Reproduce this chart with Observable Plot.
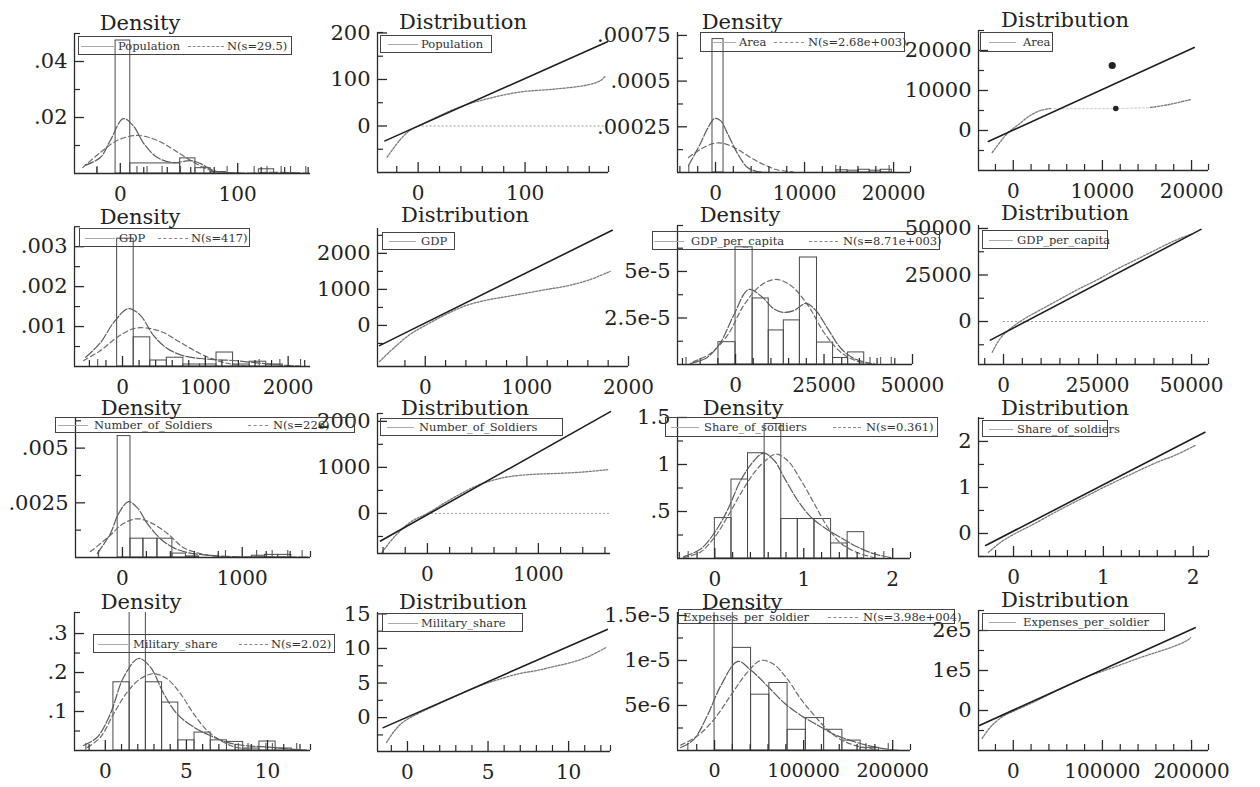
<!DOCTYPE html>
<html><head><meta charset="utf-8">
<script src="https://cdn.jsdelivr.net/npm/d3@7"></script>
<script src="https://cdn.jsdelivr.net/npm/@observablehq/plot@0.6"></script>
<style>
body{margin:0;background:#fff;}
#root{position:relative;width:1260px;height:787px;overflow:hidden;background:#fff;font-family:"DejaVu Serif",serif;color:#222;}
.ttl{position:absolute;font-size:21px;line-height:14px;white-space:nowrap;transform:translateX(-50%);color:#222;}
.legend{position:absolute;border:1px solid #444;box-sizing:border-box;}
.ltext{position:absolute;font-size:11.5px;line-height:12px;white-space:nowrap;color:#333;transform:translateY(-50%);}
.sample{position:absolute;height:0;}
</style>
</head><body><div id="root"></div>
<script>
// ---------- DATA ----------
// Population
const pop_bins = [[-4,8.5,0.0475],[8.5,51,0.0036],[51,64,0.0054],[64,77,0.0019],[77,90,0.0005],[118,131,0.0015]];
const pop_kde = [[-30,0.0029],[-17,0.0057],[-8.5,0.0118],[2.6,0.0196],[11,0.0171],[20,0.0107],[31.6,0.0057],[45,0.0039],[60,0.0046],[68,0.0036],[80,0.001],[100,0.0002],[130,0.0004],[160,0.0001]];
const pop_norm = [[-32,0.0021],[-17,0.0075],[-2.6,0.0118],[14.5,0.0136],[31.6,0.0118],[45,0.0086],[57,0.0054],[71,0.0021],[81,0.0007],[100,0.0001]];
const pop_rug = [-19.7,14.2,22.8,35.6,51.3,71.2,91,114,125,137,145,158];
const popQ_line = [[-31,-32],[177,181]];
const popQ_curve = [[-29,-67],[-17,-30],[-7.5,-9],[2,2],[20,22],[39,41],[64,58],[95,73],[126,79],[158,88],[170,97],[175,107]];
const popQ_zero = [0,177];
// Area
const area_bins = [[-340,900,0.00073],[13600,14840,0.000012],[14840,16080,0.00001],[16080,17320,0.000015],[17320,18560,0.00001],[18560,19800,0.000015]];
const area_kde = [[-3030,0.000038],[-1690,0.000159],[-900,0.00024],[-100,0.000295],[560,0.000284],[1350,0.000213],[2470,0.000104],[3600,0.000027],[4700,0.000005],[6000,0]];
const area_norm = [[-3030,0.000082],[-1690,0.000127],[-200,0.000159],[900,0.000159],[2470,0.000127],[3930,0.000082],[5390,0.000044],[6900,0.000015],[8700,0.000003]];
const area_rug = [-3000,13500,19500];
const areaQ_line = [[-2800,-2750],[20300,20750]];
const areaQ_curve = [[-2360,-5500],[-670,-750],[450,1250],[1900,3750],[3030,5000],[4160,5500]];
const areaQ_faint = [[4160,5500],[8000,5450],[12000,5500],[15400,5750]];
const areaQ_tail = [[15400,5750],[17500,6500],[19900,7750]];
const areaQ_dots = [[11500,5500],[11100,16250]];
// GDP
const gdp_bins = [[-65,135,0.0032],[135,335,0.00073],[335,535,0.00015],[535,735,0.00022],[735,935,0.00005],[935,1135,0.00005],[1135,1335,0.00035],[1335,1535,0.00005],[1535,1735,0.00012],[1735,1935,0.00005]];
const gdp_kde = [[-445,0.00023],[-265,0.0006],[-108,0.0011],[72,0.00145],[216,0.00128],[373,0.00078],[540,0.00045],[735,0.00027],[940,0.0002],[1140,0.00017],[1340,0.00015],[1580,0.0001],[1820,0.00005],[2140,0.00001]];
const gdp_norm = [[-470,0.00015],[-265,0.0004],[-65,0.00073],[135,0.00095],[300,0.00096],[495,0.00085],[700,0.0006],[940,0.00032],[1140,0.00015],[1340,0.00005],[1580,0]];
const gdp_rug = [-300,1650,1900,2150];
const gdpQ_line = [[-450,-560],[1840,2640]];
const gdpQ_curve = [[-450,-1000],[-300,-600],[-150,-250],[0,0],[200,300],[400,550],[600,700],[800,800],[1000,900],[1200,1000],[1400,1100],[1600,1250],[1820,1500]];
// GDP per capita
const gdppc_bins = [[-4830,0,1.2e-5],[0,4830,6.3e-5],[4830,9380,3.55e-5],[9380,13640,1.83e-5],[13640,18180,2.37e-5],[18180,23010,5.75e-5],[23010,27560,1.18e-5],[27560,31820,0.35e-5],[31820,36360,0.65e-5]];
const gdppc_kde = [[-12800,0.05e-5],[-8000,0.38e-5],[-4260,1.18e-5],[-570,2.63e-5],[3700,4.03e-5],[7100,3.7e-5],[10800,3.0e-5],[13600,2.8e-5],[16500,2.9e-5],[19900,3.28e-5],[22700,2.9e-5],[26000,1.94e-5],[29800,0.86e-5],[33500,0.32e-5],[38400,0.05e-5]];
const gdppc_norm = [[-11900,0.16e-5],[-7100,0.59e-5],[-2300,1.56e-5],[2300,3.17e-5],[7100,4.25e-5],[11400,4.57e-5],[15600,4.25e-5],[20500,3.17e-5],[25000,1.72e-5],[29800,0.65e-5],[34600,0.16e-5],[39400,0.03e-5]];
const gdppc_rug = [-14000,38000,41000,44000];
const gdppcQ_line = [[-3500,-10000],[52500,49500]];
const gdppcQ_curve = [[-3000,-16500],[-1500,-11000],[0,-7000],[3000,-2000],[6000,2000],[10000,6500],[15000,12000],[20000,17500],[25000,22500],[30000,28000],[35000,33000],[40000,38000],[45000,43000],[50000,47000]];
const gdppcQ_zero = [0,54500];
// Number of soldiers
const sold_bins = [[-40,67,0.00555],[67,175,0.00086],[175,292,0.00086],[292,417,0.00086],[417,530,0.00018],[530,640,0.00005],[1080,1190,0.00008],[1190,1300,0.00012],[1300,1410,0.00012]];
const sold_kde = [[-210,0.00018],[-100,0.0011],[-33,0.002],[50,0.00255],[125,0.00227],[208,0.00155],[317,0.00086],[425,0.00045],[540,0.00023],[650,0.00014],[870,0.00005],[1200,0.00003],[1550,0.00002]];
const sold_norm = [[-267,0.00027],[-125,0.0009],[8,0.00155],[125,0.00177],[233,0.0016],[375,0.0011],[510,0.00045],[650,0.00018],[790,0.00005],[950,0]];
const sold_rug = [-200,860,1120,1250,1380,1500];
const soldQ_line = [[-423,-600],[1650,2210]];
const soldQ_curve = [[-425,-900],[-295,-500],[-148,-180],[0,0],[148,220],[295,420],[443,600],[590,720],[738,800],[960,850],[1181,870],[1403,900],[1624,950]];
const soldQ_zero = [0,1650];
// Share of soldiers
const share_bins = [[0,0.187,0.43],[0.187,0.373,0.84],[0.373,0.56,1.12],[0.56,0.747,1.43],[0.747,0.933,0.42],[0.933,1.12,0.42],[1.12,1.307,0.42],[1.307,1.493,0.16],[1.493,1.68,0.28]];
const share_kde = [[-0.35,0.02],[-0.16,0.1],[0,0.28],[0.14,0.51],[0.29,0.83],[0.44,1.04],[0.55,1.12],[0.67,1.04],[0.78,0.86],[0.93,0.62],[1.08,0.44],[1.23,0.33],[1.42,0.22],[1.61,0.12],[1.79,0.05],[1.98,0.01]];
const share_norm = [[-0.35,0.01],[-0.16,0.07],[0,0.23],[0.14,0.44],[0.29,0.69],[0.44,0.91],[0.59,1.06],[0.69,1.11],[0.82,1.04],[0.97,0.83],[1.12,0.58],[1.27,0.33],[1.42,0.16],[1.61,0.06],[1.79,0.01]];
const share_rug = [-0.3,1.9];
const shareQ_line = [[-0.31,-0.26],[2.13,2.2]];
const shareQ_curve = [[-0.28,-0.41],[-0.15,-0.2],[0,-0.02],[0.2,0.18],[0.5,0.5],[0.8,0.8],[1.0,1.0],[1.3,1.28],[1.6,1.55],[1.8,1.7],[2.02,1.91]];
// Military share
const mil_bins = [[0.5,1.5,0.175],[1.5,2.5,0.36],[2.5,3.5,0.175],[3.5,4.5,0.123],[4.5,5.5,0.026],[5.5,6.5,0.046],[6.5,7.5,0.026],[7.5,8.5,0.022],[8.5,9.5,0.005],[9.5,10.5,0.023],[10.5,11.5,0.005]];
const mil_kde = [[-1.35,0.013],[-0.5,0.034],[0.31,0.094],[1.13,0.188],[2.05,0.236],[2.78,0.214],[3.6,0.146],[4.42,0.094],[5.45,0.06],[6.48,0.038],[7.5,0.021],[8.5,0.013],[9.55,0.01],[10.6,0.007],[11.6,0.003],[12.4,0.001]];
const mil_norm = [[-1.1,0.008],[-0.3,0.034],[0.51,0.094],[1.34,0.149],[2.16,0.184],[2.98,0.197],[3.8,0.184],[4.63,0.146],[5.45,0.094],[6.28,0.051],[7.1,0.026],[7.9,0.01],[8.9,0.003]];
const mil_rug = [-1.2,8.2,8.8,9.9,10.3,11.8];
const milQ_line = [[-1.5,-1.45],[12.4,12.75]];
const milQ_curve = [[-1.3,-3.6],[-0.8,-1.9],[-0.3,-0.7],[0.5,0.4],[1.5,1.5],[3,3.1],[4.5,4.6],[5.5,5.4],[7,6.4],[8,6.8],[9.1,7.4],[10.2,8.0],[11.2,8.8],[12.3,10.1]];
// Expenses per soldier
const exp_bins = [[0,20500,1.6e-5],[20500,41000,1.14e-5],[41000,61500,6.2e-6],[61500,82000,7.5e-6],[82000,102500,2.3e-6],[102500,123000,3.6e-6],[123000,143500,2.3e-6],[143500,164000,1.1e-6],[164000,184500,0.3e-6]];
const exp_kde = [[-38000,0.33e-6],[-23500,1.2e-6],[-8000,3.9e-6],[7000,7.2e-6],[26000,9.9e-6],[40000,9.0e-6],[59000,7.2e-6],[78000,5.3e-6],[97000,3.9e-6],[116000,2.8e-6],[134000,1.8e-6],[153000,1.1e-6],[172000,0.55e-6],[190000,0.2e-6],[208000,0]];
const exp_norm = [[-38000,0.6e-6],[-19500,1.6e-6],[-1000,3.4e-6],[18000,6.1e-6],[37000,8.7e-6],[52000,1.0e-5],[66000,9.6e-6],[82000,7.9e-6],[97000,5.7e-6],[112000,3.9e-6],[127000,2.3e-6],[142000,1.2e-6],[160000,0.5e-6],[179000,0.15e-6]];
const exp_rug = [-30000,170000,195000];
const expQ_line = [[-38000,-37500],[204000,207000]];
const expQ_curve = [[-35000,-70000],[-25000,-40000],[-12000,-15000],[0,-2000],[20000,18000],[40000,40000],[60000,62000],[86500,87500],[100000,98000],[120000,114000],[142700,132500],[160000,145000],[180000,160000],[195000,175000],[199000,182000]];

// tick values and labels
const pop_xt=[0,100], pop_xm=[-20,20,40,60,80,120,140,160], pop_yt=[0.02,0.04], pop_yl=[".02",".04"], pop_ym=[0.01,0.03,0.05];
const popQ_xt=[0,100], popQ_xm=[-20,20,40,60,80,120,140,160,178], popQ_yt=[0,100,200], popQ_ym=[-50,50,150,201];
const area_xt=[0,10000,20000], area_xm=[-4000,-2000,2000,4000,6000,8000,12000,14000,16000,18000,21900], area_yt=[0.00025,0.0005,0.00075], area_yl=[".00025",".0005",".00075"], area_ym=[0.000125,0.000375,0.000625];
const areaQ_xt=[0,10000,20000], areaQ_xm=[-2000,2000,4000,6000,8000,12000,14000,16000,18000,21900], areaQ_yt=[0,10000,20000], areaQ_ym=[-5000,5000,15000,25000];
const gdp_xt=[0,1000,2000], gdp_xm=[-400,-200,200,400,600,800,1200,1400,1600,1800,2200], gdp_yt=[0.001,0.002,0.003], gdp_yl=[".001",".002",".003"], gdp_ym=[0.0005,0.0015,0.0025,0.0035];
const gdpQ_xt=[0,1000,2000], gdpQ_xm=[-200,200,400,600,800,1200,1400,1600,1800], gdpQ_yt=[0,1000,2000], gdpQ_ym=[-500,500,1500,2500];
const gdppc_xt=[0,25000,50000], gdppc_xm=[-15000,-10000,-5000,5000,10000,15000,20000,30000,35000,40000,45000], gdppc_yt=[2.5e-5,5e-5], gdppc_yl=["2.5e-5","5e-5"], gdppc_ym=[1.25e-5,3.75e-5,6.25e-5,7.47e-5];
const gdppcQ_xt=[0,25000,50000], gdppcQ_xm=[-5000,5000,10000,15000,20000,30000,35000,40000,45000,54500], gdppcQ_yt=[0,25000,50000], gdppcQ_ym=[-12500,12500,37500];
const sold_xt=[0,1000], sold_xm=[-200,200,400,600,800,1200,1400,1570], sold_yt=[0.0025,0.005], sold_yl=[".0025",".005"], sold_ym=[0.00125,0.00375,0.00625];
const soldQ_xt=[0,1000], soldQ_xm=[-400,-200,200,400,600,800,1200,1400,1600], soldQ_yt=[0,1000,2000], soldQ_ym=[-500,500,1500,2170];
const share_xt=[0,1,2], share_xm=[-0.4,-0.2,0.2,0.4,0.6,0.8,1.2,1.4,1.6,1.8,2.2], share_yt=[0.5,1,1.5], share_yl=[".5","1","1.5"], share_ym=[0.25,0.75,1.25];
const shareQ_xt=[0,1,2], shareQ_xm=[-0.2,0.2,0.4,0.6,0.8,1.2,1.4,1.6,1.8,2.17], shareQ_yt=[0,1,2], shareQ_ym=[-0.5,0.5,1.5,2.5];
const mil_xt=[0,5,10], mil_xm=[-1,1,2,3,4,6,7,8,9,11,12,12.65], mil_yt=[0.1,0.2,0.3], mil_yl=[".1",".2",".3"], mil_ym=[0.05,0.15,0.25,0.354];
const milQ_xt=[0,5,10], milQ_xm=[-1,1,2,3,4,6,7,8,9,11,12,12.6], milQ_yt=[0,5,10,15], milQ_ym=[-2.5,2.5,7.5,12.5];
const exp_xt=[0,100000,200000], exp_xm=[-20000,20000,40000,60000,80000,120000,140000,160000,180000,220000], exp_yt=[5e-6,1e-5,1.5e-5], exp_yl=["5e-6","1e-5","1.5e-5"], exp_ym=[2.5e-6,7.5e-6,1.25e-5];
const expQ_xt=[0,100000,200000], expQ_xm=[-20000,20000,40000,60000,80000,120000,140000,160000,180000,219000], expQ_yt=[0,100000,200000], expQ_yl=["0","1e5","2e5"], expQ_ym=[-50000,50000,150000,250000];

// ---------- DRAWING ----------
const root = document.getElementById("root");
const INK = "#2a2a2a";
const ML = 95, MR = 12, MT = 8, MB = 42;

function axes(c) {
  const W = c.right - c.ax, H = c.bot - c.top;
  const fy = c.yl ? (d => c.yl[c.yt.indexOf(d)]) : (d => String(d));
  const fx = c.xl ? (d => c.xl[c.xt.indexOf(d)]) : (d => String(d));
  const m = [
    Plot.ruleX([c.xd[0]], {stroke: INK, strokeWidth: 1.3}),
    Plot.ruleY([c.yd[0]], {stroke: INK, strokeWidth: 1.3}),
    // inward ticks
    Plot.tickY(c.yt, {y: d => d, insetRight: W - 10, stroke: INK, strokeWidth: 1.3}),
    Plot.tickY(c.ym, {y: d => d, insetRight: W - 6, stroke: INK, strokeWidth: 1.2}),
    Plot.tickX(c.xt, {x: d => d, insetTop: H - 10, stroke: INK, strokeWidth: 1.3}),
    Plot.tickX(c.xm, {x: d => d, insetTop: H - 6, stroke: INK, strokeWidth: 1.2}),
    // labels
    Plot.axisY({ticks: c.yt, tickSize: 0, tickPadding: 7, tickFormat: fy, fontSize: 21, label: null}),
    Plot.axisX({ticks: c.xt, tickSize: 0, tickPadding: 13, tickFormat: fx, fontSize: c.xf || 20, label: null})
  ];
  if (c.rug) m.push(Plot.tickX(c.rug, {x: d => d, insetTop: H - 7, stroke: "#555", strokeWidth: 1.1}));
  return m;
}

function place(c, marks) {
  const width = c.right - c.ax + ML + MR;
  const height = c.bot - c.top + MT + MB;
  const svg = Plot.plot({
    width, height, marginLeft: ML, marginRight: MR, marginTop: MT, marginBottom: MB,
    style: {background: "transparent", overflow: "visible", fontFamily: "DejaVu Serif", color: "#222"},
    x: {domain: c.xd}, y: {domain: c.yd},
    marks
  });
  svg.style.position = "absolute";
  svg.style.left = (c.ax - ML) + "px";
  svg.style.top = (c.top - MT) + "px";
  svg.style.maxWidth = "none";
  root.appendChild(svg);
}

function density(c) {
  place(c, [
    Plot.rectY(c.bins, {x1: d => d[0], x2: d => d[1], y: d => d[2], fill: "none", stroke: "#4a4a4a", strokeWidth: 1, clip: true}),
    Plot.line(c.norm, {x: d => d[0], y: d => d[1], curve: "catmull-rom", stroke: "#6c6c6c", strokeWidth: 1.2, strokeDasharray: "5,3", clip: true}),
    Plot.line(c.kde, {x: d => d[0], y: d => d[1], curve: "catmull-rom", stroke: "#5c5c5c", strokeWidth: 1.2, strokeDasharray: "9,2", clip: true}),
    ...axes(c)
  ]);
}

function distribution(c) {
  const marks = [];
  if (c.zero) marks.push(Plot.ruleY([c.zero], {y: 0, x1: d => d[0], x2: d => d[1], stroke: "#9a9a9a", strokeDasharray: "2,2"}));
  if (c.faint) marks.push(Plot.line(c.faint, {x: d => d[0], y: d => d[1], curve: "catmull-rom", stroke: "#d4d4d4", strokeWidth: 1.2, strokeDasharray: "2,2"}));
  for (const cur of c.curves) marks.push(Plot.line(cur, {x: d => d[0], y: d => d[1], curve: "catmull-rom", stroke: "#7a7a7a", strokeWidth: 1.3, strokeDasharray: "2,1.5", clip: true}));
  marks.push(Plot.line(c.line, {x: d => d[0], y: d => d[1], stroke: "#1e1e1e", strokeWidth: 1.6}));
  if (c.dots) marks.push(Plot.dot(c.dots, {x: d => d[0], y: d => d[1], r: (d, i) => i === 1 ? 3 : 1.8, fill: "#222", stroke: "none"}));
  marks.push(...axes(c));
  place(c, marks);
}

function title(text, cx, baseline) {
  const d = document.createElement("div");
  d.className = "ttl"; d.textContent = text;
  d.style.left = cx + "px"; d.style.top = (baseline - 12) + "px";
  root.appendChild(d);
}

function legend(x, y, w, h, items) {
  const b = document.createElement("div");
  b.className = "legend";
  Object.assign(b.style, {left: x + "px", top: y + "px", width: w + "px", height: h + "px"});
  for (const it of items) {
    if (it.s) {
      const s = document.createElement("div");
      s.className = "sample";
      Object.assign(s.style, {left: it.s[0] + "px", width: (it.s[1] - it.s[0]) + "px", top: (h / 2 - 1) + "px",
        borderTop: it.dash ? "1px dashed #888" : "1px solid #aaa"});
      b.appendChild(s);
    }
    const t = document.createElement("div");
    t.className = "ltext"; t.textContent = it.t;
    t.style.left = it.x + "px"; t.style.top = (h / 2 - 1) + "px";
    b.appendChild(t);
  }
  root.appendChild(b);
}

// Row 1
density({ax: 74, top: 33, bot: 173, right: 310, xd: [-39, 162], yd: [0, 0.05], bins: pop_bins, kde: pop_kde, norm: pop_norm, rug: pop_rug, xt: pop_xt, xm: pop_xm, yt: pop_yt, yl: pop_yl, ym: pop_ym});
distribution({ax: 377, top: 32, bot: 172, right: 608, xd: [-38, 178], yd: [-100, 201], line: popQ_line, curves: [popQ_curve], zero: popQ_zero, xt: popQ_xt, xm: popQ_xm, yt: popQ_yt, ym: popQ_ym});
density({ax: 677, top: 32, bot: 172, right: 910, xd: [-4270, 21900], yd: [0, 0.000766], bins: area_bins, kde: area_kde, norm: area_norm, rug: area_rug, xt: area_xt, xm: area_xm, yt: area_yt, yl: area_yl, ym: area_ym});
distribution({ax: 978, top: 30, bot: 170, right: 1208, xd: [-3900, 21900], yd: [-10000, 25000], line: areaQ_line, curves: [areaQ_curve, areaQ_tail], faint: areaQ_faint, dots: areaQ_dots, xt: areaQ_xt, xm: areaQ_xm, yt: areaQ_yt, ym: areaQ_ym});
// Row 2
density({ax: 74, top: 227, bot: 366, right: 310, xd: [-580, 2270], yd: [0, 0.00348], bins: gdp_bins, kde: gdp_kde, norm: gdp_norm, rug: gdp_rug, xt: gdp_xt, xm: gdp_xm, yt: gdp_yt, yl: gdp_yl, ym: gdp_ym});
distribution({ax: 377, top: 228, bot: 366, right: 628, xd: [-470, 2000], yd: [-1140, 2690], line: gdpQ_line, curves: [gdpQ_curve], xt: gdpQ_xt, xm: gdpQ_xm, yt: gdpQ_yt, ym: gdpQ_ym});
density({ax: 677, top: 225, bot: 364, right: 912, xd: [-16400, 50000], yd: [0, 7.47e-5], bins: gdppc_bins, kde: gdppc_kde, norm: gdppc_norm, rug: gdppc_rug, xt: gdppc_xt, xm: gdppc_xm, yt: gdppc_yt, yl: gdppc_yl, ym: gdppc_ym});
distribution({ax: 978, top: 225, bot: 364, right: 1208, xd: [-6650, 54500], yd: [-23100, 51600], line: gdppcQ_line, curves: [gdppcQ_curve], zero: gdppcQ_zero, xt: gdppcQ_xt, xm: gdppcQ_xm, yt: gdppcQ_yt, ym: gdppcQ_ym});
// Row 3
density({ax: 75, top: 417, bot: 557, right: 310, xd: [-392, 1570], yd: [0, 0.0064], bins: sold_bins, kde: sold_kde, norm: sold_norm, rug: sold_rug, xt: sold_xt, xm: sold_xm, yt: sold_yt, yl: sold_yl, ym: sold_ym});
distribution({ax: 377, top: 413, bot: 553, right: 610, xd: [-450, 1650], yd: [-870, 2170], line: soldQ_line, curves: [soldQ_curve], zero: soldQ_zero, xt: soldQ_xt, xm: soldQ_xm, yt: soldQ_yt, ym: soldQ_ym});
density({ax: 677, top: 417, bot: 558, right: 910, xd: [-0.42, 2.2], yd: [0, 1.5], bins: share_bins, kde: share_kde, norm: share_norm, rug: share_rug, xt: share_xt, xm: share_xm, yt: share_yt, yl: share_yl, ym: share_ym});
distribution({ax: 978, top: 417, bot: 556, right: 1208, xd: [-0.39, 2.17], yd: [-0.5, 2.52], line: shareQ_line, curves: [shareQ_curve], xt: shareQ_xt, xm: shareQ_xm, yt: shareQ_yt, ym: shareQ_ym});
// Row 4
density({ax: 74, top: 612, bot: 750, right: 310, xd: [-1.9, 12.65], yd: [0, 0.354], bins: mil_bins, kde: mil_kde, norm: mil_norm, rug: mil_rug, xt: mil_xt, xm: mil_xm, yt: mil_yt, yl: mil_yl, ym: mil_ym});
distribution({ax: 377, top: 612, bot: 751, right: 610, xd: [-1.86, 12.6], yd: [-4.9, 15.2], line: milQ_line, curves: [milQ_curve], xt: milQ_xt, xm: milQ_xm, yt: milQ_yt, ym: milQ_ym});
density({ax: 677, top: 612, bot: 750, right: 910, xd: [-41600, 220000], yd: [0, 1.533e-5], bins: exp_bins, kde: exp_kde, norm: exp_norm, rug: exp_rug, xt: exp_xt, xm: exp_xm, yt: exp_yt, yl: exp_yl, ym: exp_ym, xf: 19});
distribution({ax: 978, top: 610, bot: 750, right: 1208, xd: [-39000, 219000], yd: [-100000, 250000], line: expQ_line, curves: [expQ_curve], xt: expQ_xt, xm: expQ_xm, yt: expQ_yt, yl: expQ_yl, ym: expQ_ym});

// Titles
for (const [t, x, b] of [["Density",140,28],["Distribution",463,27],["Density",742,27],["Distribution",1065,25],
  ["Density",140,222],["Distribution",465,220],["Density",740,220],["Distribution",1065,218],
  ["Density",141,413],["Distribution",465,413],["Density",743,413],["Distribution",1065,413],
  ["Density",141,607],["Distribution",463,607],["Density",742,607],["Distribution",1065,605]]) title(t, x, b);

// Legends
legend(78, 36, 214, 19, [{s:[2,35], t:"Population", x:39}, {s:[109,145], dash:1, t:"N(s=29.5)", x:148}]);
legend(380, 35, 112, 18, [{s:[7,37], t:"Population", x:40}]);
legend(700, 32, 205, 20, [{s:[12,35], t:"Area", x:38}, {s:[73,103], dash:1, t:"N(s=2.68e+003)", x:107}]);
legend(980, 32, 73, 20, [{s:[8,35], t:"Area", x:42}]);
legend(79, 228, 171, 19, [{s:[5,35], t:"GDP", x:39}, {s:[78,108], dash:1, t:"N(s=417)", x:111}]);
legend(382, 232, 73, 18, [{s:[6,33], t:"GDP", x:38}]);
legend(652, 231, 288, 19, [{s:[1,31], t:"GDP_per_capita", x:38}, {s:[156,185], dash:1, t:"N(s=8.71e+003)", x:190}]);
legend(982, 230, 126, 19, [{s:[6,30], t:"GDP_per_capita", x:34}]);
legend(55, 417, 300, 16, [{s:[2,32], t:"Number_of_Soldiers", x:38}, {s:[192,212], dash:1, t:"N(s=226)", x:217}]);
legend(380, 418, 183, 18, [{s:[6,33], t:"Number_of_Soldiers", x:38}]);
legend(665, 417, 273, 20, [{s:[5,33], t:"Share_of_soldiers", x:38}, {s:[167,195], dash:1, t:"N(s=0.361)", x:200}]);
legend(982, 420, 126, 17, [{s:[6,30], t:"Share_of_soldiers", x:34}]);
legend(93, 634, 242, 19, [{s:[4,34], t:"Military_share", x:39}, {s:[145,174], dash:1, t:"N(s=2.02)", x:177}]);
legend(382, 613, 141, 19, [{s:[5,35], t:"Military_share", x:38}]);
legend(678, 609, 277, 15, [{t:"Expenses_per_soldier", x:4}, {s:[149,179], dash:1, t:"N(s=3.98e+004)", x:184}]);
legend(982, 613, 183, 18, [{s:[6,33], t:"Expenses_per_soldier", x:40}]);
</script>
</body></html>
